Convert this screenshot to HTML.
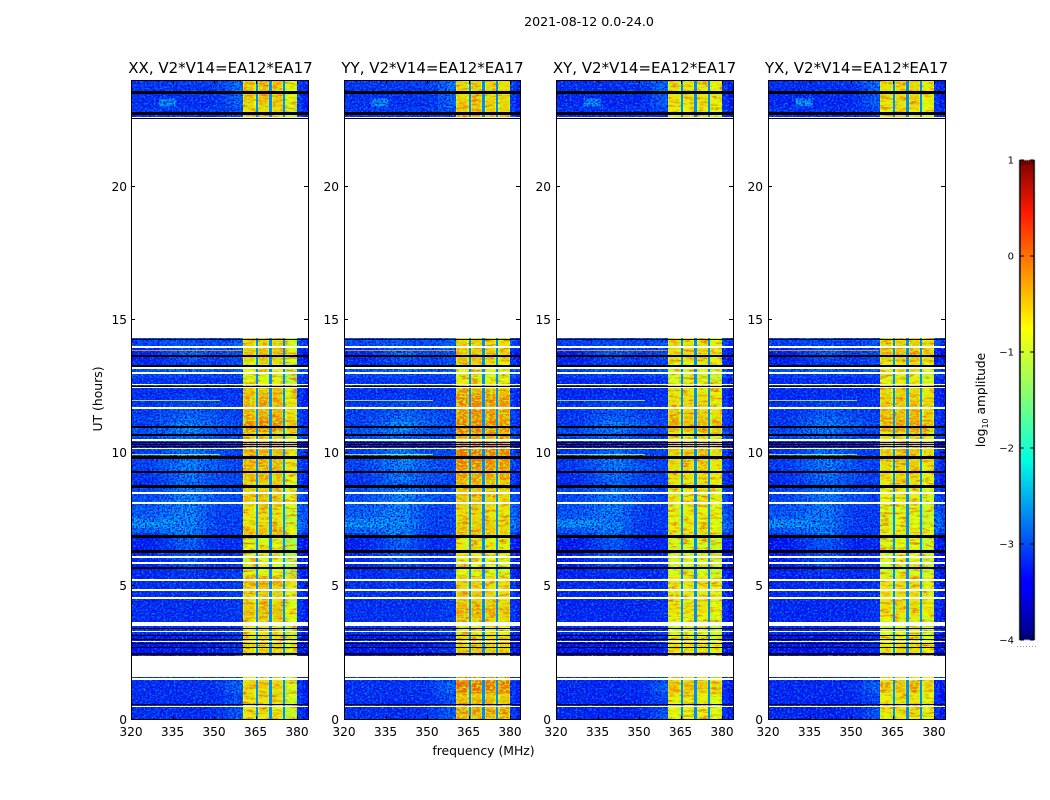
<!DOCTYPE html>
<html>
<head>
<meta charset="utf-8">
<title>2021-08-12 dynamic spectra</title>
<style>
html,body{margin:0;padding:0;background:#fff}
svg{display:block}
text{font-family:"DejaVu Sans","Liberation Sans",sans-serif;fill:#000}
</style>
</head>
<body>
<svg id="chart" xmlns="http://www.w3.org/2000/svg" width="1050" height="800" viewBox="0 0 1050 800">
<defs>
<linearGradient id="jet" x1="0" y1="1" x2="0" y2="0">
<stop offset="0" stop-color="#000080"/><stop offset="0.11" stop-color="#0000ff"/><stop offset="0.125" stop-color="#0000ff"/><stop offset="0.375" stop-color="#00ffe3"/><stop offset="0.5" stop-color="#7dff7a"/><stop offset="0.65" stop-color="#ffff00"/><stop offset="0.89" stop-color="#ff1a00"/><stop offset="1" stop-color="#800000"/>
</linearGradient>
<filter id="noiseDark" x="0" y="0" width="100%" height="100%" color-interpolation-filters="sRGB">
<feTurbulence type="fractalNoise" baseFrequency="0.55 0.62" numOctaves="2" seed="4"/>
<feColorMatrix values="0 0 0 0 0  0 0 0 0 0.03  0 0 0 0 0.85  3.8 0 0 0 -1.5"/>
</filter>
<filter id="noiseLight" x="0" y="0" width="100%" height="100%" color-interpolation-filters="sRGB">
<feTurbulence type="fractalNoise" baseFrequency="0.5 0.6" numOctaves="2" seed="11"/>
<feColorMatrix values="0 0 0 0 0  0 0 0 0 0.6  0 0 0 0 1  0 3.2 0 0 -1.6"/>
</filter>
<filter id="noiseBand" x="0" y="0" width="100%" height="100%" color-interpolation-filters="sRGB">
<feTurbulence type="fractalNoise" baseFrequency="0.3 0.55" numOctaves="2" seed="7"/>
<feColorMatrix values="0 0 0 0 0.7  0 0 0 0 1  0 0 0 0 0.1  0 3.6 0 0 -1.55"/>
</filter>
<filter id="noiseBandWarm" x="0" y="0" width="100%" height="100%" color-interpolation-filters="sRGB">
<feTurbulence type="fractalNoise" baseFrequency="0.1 0.4" numOctaves="2" seed="23"/>
<feColorMatrix values="0 0 0 0 1  0 0 0 0 0.4  0 0 0 0 0  3.4 0 0 0 -1.6"/>
</filter>
</defs>
<text x="589" y="26" font-size="12.6" text-anchor="middle">2021-08-12 0.0-24.0</text>
<text x="483.5" y="755" font-size="12.4" text-anchor="middle">frequency (MHz)</text>
<text transform="translate(102 399) rotate(-90)" font-size="12.4" text-anchor="middle">UT (hours)</text>
<text transform="translate(985 400) rotate(-90)" font-size="12.2" text-anchor="middle">log<tspan font-size="8" dy="3">10</tspan><tspan dy="-3"> amplitude</tspan></text>
<g id="panels"></g>
<g id="colorbar"></g>
</svg>
<script>
// Chart data (hours, MHz, log10 amplitude)
const panelTitles = ['XX, V2*V14=EA12*EA17','YY, V2*V14=EA12*EA17','XY, V2*V14=EA12*EA17','YX, V2*V14=EA12*EA17'];
const xTicks = [320,335,350,365,380];
const yTicks = [0,5,10,15,20];
const cbTicks = [1,0,-1,-2,-3,-4];
const cbMinorMarks = [1,2,3,4,5];

const rowHours = [0,0.2,0.4,0.6,0.8,1,1.2,1.4,
2.4,2.6,2.8,
3,3.2,3.4,3.6,3.8, 4,4.2,4.4,4.6,4.8, 5,5.2,5.4,5.6,5.8, 6,6.2,6.4,6.6,6.8,
7,7.2,7.4,7.6,7.8, 8,8.2,8.4,8.6,8.8, 9,9.2,9.4,9.6,9.8, 10,10.2,10.4,10.6,10.8,
11,11.2,11.4,11.6,11.8, 12,12.2,12.4,12.6,12.8, 13,13.2,13.4,13.6,13.8, 14,14.2,
22.6,22.8,23,23.2,23.4,23.6,23.8];

const lowA = [-3,-3,-3,-3,-3,-3,-3,-3,
-3.2,-3.2,-3.2,
-3.2,-2.95,-2.95,-3,-3, -3,-3,-3.05,-3,-3, -3,-3.05,-3.05,-3.1,-3.1, -3.1,-3.15,-3.15,-3.15,-2.9,
-2.6,-2.45,-2.5,-2.6,-2.65, -2.7,-2.75,-2.8,-2.85,-3, -2.95,-2.9,-2.85,-2.85,-2.9, -2.9,-3.2,-2.85,-2.7,-2.75,
-2.9,-2.85,-2.9,-2.9,-3, -3,-3,-2.9,-3,-2.8, -2.7,-3,-3.1,-3.1,-3.05, -2.8,-2.75,
-2.9,-2.9,-3,-3,-3,-2.95,-2.95];

const lowB = [-3.05,-3.05,-3.05,-3.05,-3,-3,-3,-3.05,
-3.2,-3.2,-3.2,
-3.2,-2.9,-2.95,-3,-3, -3,-3,-3,-3,-2.95, -2.95,-2.95,-2.9,-2.75,-2.7, -2.6,-2.55,-2.6,-2.55,-2.4,
-2.3,-2.25,-2.3,-2.3,-2.3, -2.3,-2.3,-2.3,-2.4,-2.5, -2.4,-2.35,-2.35,-2.3,-2.35, -2.4,-3.1,-2.6,-2.4,-2.3,
-2.3,-2.5,-2.6,-2.7,-2.8, -2.9,-3,-2.8,-2.95,-2.8, -2.5,-2.85,-2.7,-2.5,-2.6, -2.7,-2.7,
-2.9,-2.9,-3,-3,-2.95,-2.95,-2.9];

const lowC = [-3,-3,-3,-3,-3,-3,-2.95,-3,
-3.15,-3.15,-3.15,
-3.15,-2.95,-3,-3,-3, -3,-3,-3,-3,-3, -3,-3,-3,-3,-3.05, -3.05,-3.1,-3.05,-3.05,-2.95,
-2.9,-2.85,-2.85,-2.85,-2.85, -2.7,-2.65,-2.65,-2.7,-2.75, -2.75,-2.7,-2.65,-2.7,-2.7, -2.75,-3.1,-2.75,-2.75,-2.7,
-2.6,-2.65,-2.75,-2.85,-2.9, -2.95,-3,-2.9,-3,-2.85, -2.75,-2.9,-2.9,-2.8,-2.85, -2.8,-2.8,
-2.9,-2.9,-3,-3,-2.95,-2.95,-2.85];

const lowD = [-2.65,-2.65,-2.75,-2.75,-2.75,-2.55,-2.55,-2.75,
-3,-3,-3,
-3,-2.8,-2.85,-2.9,-2.9, -2.9,-2.9,-2.9,-2.9,-2.9, -2.9,-2.9,-2.9,-2.9,-2.95, -2.95,-3,-3,-3,-2.9,
-2.85,-2.85,-2.85,-2.85,-2.85, -2.8,-2.8,-2.8,-2.8,-2.8, -2.8,-2.8,-2.8,-2.8,-2.8, -2.8,-3,-2.8,-2.8,-2.75,
-2.75,-2.8,-2.85,-2.9,-2.9, -2.9,-2.95,-2.85,-2.95,-2.75, -2.6,-2.75,-2.75,-2.7,-2.7, -2.6,-2.6,
-2.75,-2.75,-2.6,-2.6,-2.6,-2.5,-2.5];

const bandXX = [-.6,-.5,-.7,-.55,-.45,-.5,-.4,-.5,
-.45,-.35,-.4,
-.5,-.6,-.65,-.4,-.3, -.25,-.35,-.5,-.35,-.4, -.2,-.15,-.7,-.75,-.8, -.8,-.75,-.7,-.85,-.3,
-.3,-.5,-.6,-.55,-.5, -.35,-.3,-.4,-.45,-.4, -.3,-.3,-.2,-.25,-.3, -.2,-.2,-.3,-.5,0,
.05,-.1,-.2,-.15,-.2, -.3,-.35,-.3,-.7,-.8, -.7,-.65,-.4,-.3,-.35, -.4,-.5,
-.5,-.5,-.4,-.3,-.35,-.35,-.3];

const bandYY = [-.2,-.05,-.2,-.2,-.3,.15,.25,.1,
-.3,-.3,-.3,
-.5,-.6,-.6,-.35,-.25, -.1,-.3,-.4,-.35,-.45, -.4,-.4,-.7,-.75,-.7, -.65,-.6,-.55,-.6,-.35,
-.3,-.35,-.4,-.5,-.45, -.3,-.3,-.3,-.25,-.25, -.1,-.05,.05,.1,.15, .2,.1,-.15,-.2,.1,
.1,0,.05,-.05,.1, 0,-.2,-.4,-.6,-.75, -.7,-.5,-.3,-.3,-.35, -.4,-.5,
-.2,-.3,-.3,-.4,-.5,-.4,-.4];

const bandXY = [-.7,-.6,-.7,-.65,-.6,-.3,-.3,-.5,
-.55,-.5,-.55,
-.7,-.75,-.8,-.7,-.6, -.5,-.55,-.65,-.55,-.6, -.5,-.6,-.8,-.8,-.85, -.85,-.8,-.8,-.8,-.6,
-.55,-.6,-.65,-.6,-.65, -.6,-.55,-.6,-.6,-.55, -.5,-.5,-.45,-.45,-.4, -.35,-.4,-.5,-.6,-.25,
-.2,-.35,-.4,-.45,-.5, -.5,-.55,-.55,-.8,-.8, -.75,-.7,-.5,-.45,-.5, -.5,-.6,
-.6,-.6,-.55,-.5,-.55,-.55,-.5];

const bandYX = [-.65,-.5,-.6,-.6,-.6,-.35,-.3,-.5,
-.5,-.5,-.55,
-.7,-.8,-.8,-.7,-.6, -.45,-.5,-.55,-.55,-.6, -.55,-.6,-.8,-.85,-.85, -.8,-.75,-.75,-.75,-.6,
-.6,-.75,-.75,-.8,-.75, -.7,-.7,-.65,-.6,-.55, -.5,-.45,-.45,-.4,-.4, -.35,-.4,-.5,-.55,-.2,
-.15,-.3,-.3,-.35,-.35, -.4,-.45,-.5,-.7,-.8, -.6,-.6,-.35,-.2,-.35, -.4,-.5,
-.6,-.6,-.55,-.45,-.5,-.5,-.45];

const lowAnchors = [327,341,351,358];
const subbandStarts = [360.4,365.8,370.8,375.8];
const subbandEnds = [365,370,375,380];
const subbandOffsetXX = [0,.05,0,-.35];
const subbandOffsetYY = [0,0,-.05,-.1];
const subbandOffsetXY = [0,0,0,-.1];
const subbandOffsetYX = [0,.05,.05,-.1];
const lowOffsetByPanel = [-.14,-.12,-.2,-.2];
const bandShift = -.1;

const blackHours = [23.49,22.7,22.51,14.22,13.62,13.26,12.47,10.92,10.66,10.36,10.28,10.21,9.79,9.23,8.71,6.79,6.23,5.67,3.38,3.13,2.98,2.81,2.66,2.4,.53];
const blackWidths = [.1,.1,.05,.05,.06,.06,.04,.08,.06,.05,.05,.05,.1,.08,.1,.12,.12,.07,.05,.04,.04,.05,.05,.08,.04];
const whiteHours = [22.55,14.3,13.98,13.92,13.17,12.97,12.53,12.43,11.67,10.47,10.13,8.48,8.1,6.08,5.85,5.22,4.84,4.54,3.6,3.53,3.26,2.89,1.5,.45];
const whiteWidths = [.07,.12,.05,.05,.06,.08,.05,.04,.06,.07,.05,.07,.07,.06,.06,.07,.06,.06,.06,.06,.05,.05,.06,.04];
const rfiHours = [13.85,12,9.98];
const rfiLevels = [-.3,-1,-.9];
const rfiEnds = [360,352,352];
const patchHours = [23,7.2];
const patchEnds = [23.3,7.5];
const patchStarts = [330,320];
const patchStops = [336,336];
const patchLevels = [-2.45,-2.4];

const panelLeft = [131,344,556,768];
const panelWidth = [177,176,177,177];
const bandByPanel = [bandXX,bandYY,bandXY,bandYX];
const offsetsByPanel = [subbandOffsetXX,subbandOffsetYY,subbandOffsetXY,subbandOffsetYX];
const NS = 'http://www.w3.org/2000/svg';
const F0 = 320, MHZ_PX = 2.767, LOW_STEP = 3.4;
const yOf = h => 719.5 - h * 26.65;

function ramp(t, pts){
  for (let i = 1; i < pts.length; i++){
    if (t <= pts[i][0]) return pts[i-1][1] + (pts[i][1] - pts[i-1][1]) * (t - pts[i-1][0]) / (pts[i][0] - pts[i-1][0]);
  }
  return pts[pts.length - 1][1];
}
const jetR = [[0,0],[.35,0],[.66,1],[.89,1],[1,.5]];
const jetG = [[0,0],[.125,0],[.375,1],[.64,1],[.91,0],[1,0]];
const jetB = [[0,.5],[.11,1],[.34,1],[.65,0],[1,0]];
function jet(v){
  const t = Math.max(0, Math.min(1, (v + 4) / 5));
  return 'rgb(' + Math.round(255 * ramp(t, jetR)) + ',' + Math.round(255 * ramp(t, jetG)) + ',' + Math.round(255 * ramp(t, jetB)) + ')';
}
function add(parent, tag, attrs){
  const el = document.createElementNS(NS, tag);
  for (const k in attrs) el.setAttribute(k, attrs[k]);
  parent.appendChild(el);
  return el;
}
function lowAt(f, i){
  const vals = [lowA[i], lowB[i], lowC[i], lowD[i]];
  if (f <= lowAnchors[0]) return vals[0];
  for (let k = 1; k < 4; k++){
    if (f <= lowAnchors[k]) return vals[k-1] + (vals[k] - vals[k-1]) * (f - lowAnchors[k-1]) / (lowAnchors[k] - lowAnchors[k-1]);
  }
  return vals[3];
}
const root = document.getElementById('panels');

panelTitles.forEach(function(title, p){
  const W = panelWidth[p], L = panelLeft[p], R = L + W;
  const labelShift = p ? 1 : 0;
  const xOf = f => L + (f - F0) * MHZ_PX;
  const g = add(root, 'g', {});
  
  

  const heat = add(g, 'g', {'shape-rendering':'crispEdges'});
  
  

  function cell(parent, f0, f1, h, v){
    const x0 = Math.round(xOf(f0)), x1 = Math.min(R, Math.round(xOf(f1)));
    const y1 = Math.round(yOf(h)), y0 = Math.round(yOf(h + 0.2));
    const r = add(parent, 'rect', {x:x0, y:y0, width:Math.max(1, x1 - x0), height:y1 - y0, fill:jet(v)});
    
    
    return r;
  }
  rowHours.forEach(function(h, i){
    const off = lowOffsetByPanel[p];
    for (let f = 320; f < 360.4; f += LOW_STEP){
      cell(heat, f, Math.min(360.4, f + LOW_STEP), h, lowAt(f + LOW_STEP / 2, i) + off);
    }
    subbandStarts.forEach(function(s, b){
      const e = subbandEnds[b], v = bandByPanel[p][i] + offsetsByPanel[p][b] + bandShift;
      const w = (e - s);
      cell(heat, s, s + w * 0.12, h, v - 0.3);
      cell(heat, s + w * 0.12, e - w * 0.12, h, v);
      cell(heat, e - w * 0.12, e, h, v - 0.3);
    });
    cell(heat, 380, 382.2, h, lowA[i] + 0.05 + off);
    cell(heat, 382.2, 384, h, lowA[i] - 0.15 + off);
  });
  patchHours.forEach(function(h, i){
    const x0 = xOf(patchStarts[i]), x1 = xOf(patchStops[i]);
    const r = add(heat, 'rect', {x:x0, y:yOf(patchEnds[i]), width:x1 - x0, height:yOf(h) - yOf(patchEnds[i]), fill:jet(patchLevels[i])});
    
    
  });

  // speckle texture over the data spans
  const spans = [[0,1.6],[2.4,14.4],[22.6,24]];
  const tex = add(g, 'g', {});
  
  
  spans.forEach(function(sp){
    const y0 = Math.round(yOf(sp[1])), hgt = Math.round(yOf(sp[0])) - y0;
    const xa = Math.round(xOf(360.4)), xb = Math.round(xOf(380));
    add(tex, 'rect', {x:L, y:y0, width:xa - L, height:hgt, filter:'url(#noiseDark)'});
    add(tex, 'rect', {x:L, y:y0, width:xa - L, height:hgt, filter:'url(#noiseLight)'});
    add(tex, 'rect', {x:xb, y:y0, width:R - xb, height:hgt, filter:'url(#noiseDark)'});
    add(tex, 'rect', {x:xb, y:y0, width:R - xb, height:hgt, filter:'url(#noiseLight)'});
    add(tex, 'rect', {x:xa, y:y0, width:xb - xa, height:hgt, filter:'url(#noiseBandWarm)'});
    add(tex, 'rect', {x:xa, y:y0, width:xb - xa, height:hgt, filter:'url(#noiseBand)'});
  });

  // sub-band gaps drawn above the band texture
  const gaps = add(g, 'g', {'shape-rendering':'crispEdges'});
  
  
  rowHours.forEach(function(h){
    subbandEnds.slice(0, 3).forEach(function(e, b){
      cell(gaps, e, subbandStarts[b + 1], h, -2.7);
    });
  });

  // rfi + flagged rows
  const flags = add(g, 'g', {'shape-rendering':'crispEdges'});
  
  
  rfiHours.forEach(function(h, i){
    const r = add(flags, 'rect', {x:L, y:Math.round(yOf(h)), width:Math.round(xOf(rfiEnds[i]) - L), height:1, fill:jet(rfiLevels[i]), opacity:0.8});
    
    
  });
  whiteHours.forEach(function(h, i){
    const r = add(flags, 'rect', {x:L, y:Math.round(yOf(h + whiteWidths[i])), width:W, height:Math.max(1, Math.round(whiteWidths[i] * 26.65)), fill:'#fff'});
    
    
  });
  blackHours.forEach(function(h, i){
    const r = add(flags, 'rect', {x:L, y:Math.round(yOf(h + blackWidths[i])), width:W, height:Math.max(1, Math.round(blackWidths[i] * 26.65)), fill:'#000'});
    
    
  });

  // ticks + labels
  xTicks.forEach(function(f){
    const x = Math.round(xOf(f)) + 0.5;
    add(g, 'path', {d:'M' + x + ' 720v-4M' + x + ' 80v4', stroke:'#000', 'stroke-width':1, fill:'none'});
    const t = add(g, 'text', {x:xOf(f), y:736, 'font-size':12.2, 'text-anchor':'middle'});
    
    
    t.textContent = f;
  });
  yTicks.forEach(function(v){
    const y = Math.round(yOf(v)) - 0.5;
    add(g, 'path', {d:'M' + L + ' ' + y + 'h4M' + R + ' ' + y + 'h-4', stroke:'#000', 'stroke-width':1, fill:'none'});
    const t = add(g, 'text', {x:L - 4 - labelShift, y:y + 4.5, 'font-size':12.2, 'text-anchor':'end'});
    
    
    t.textContent = v;
  });
  const frame = add(g, 'rect', {x:L + 0.5, y:80.5, width:W, height:639, fill:'none', stroke:'#000', 'stroke-width':1});
  
  
  const tt = add(g, 'text', {x:L + 89.5 - labelShift, y:73, 'font-size':15, 'text-anchor':'middle'});
  
  
  tt.textContent = title;
});

// colorbar
const cb = document.getElementById('colorbar');
const cbY = v => 160 + (1 - v) * 96;
const bar = add(cb, 'rect', {x:1019, y:160, width:16, height:480, fill:'url(#jet)', stroke:'#c8c8c8', 'stroke-width':1});


add(cb, 'path', {d:'M1020 160V640M1034 160V640', stroke:'#000', 'stroke-width':1.4, fill:'none'});
cbMinorMarks.forEach(function(m){
  const x = 1020.5 + m * 2.3;
  add(cb, 'path', {d:'M' + x + ' 160v5M' + x + ' 640v-5', stroke:'#000', 'stroke-width':0.6, fill:'none', opacity:0.7});
});
cbTicks.forEach(function(v){
  const y = cbY(v);
  add(cb, 'path', {d:'M1020 ' + y + 'h4M1034 ' + y + 'h-4', stroke:'#000', 'stroke-width':1, fill:'none'});
  const t = add(cb, 'text', {x:1014, y:y + 3.5, 'font-size':10, 'text-anchor':'end'});
  
  
  t.textContent = v < 0 ? '\u2212' + Math.abs(v) : String(v);
});
add(cb, 'path', {d:'M1017 646.5H1036', stroke:'#999', 'stroke-width':1, 'stroke-dasharray':'1 2', fill:'none'});
</script>
</body>
</html>
